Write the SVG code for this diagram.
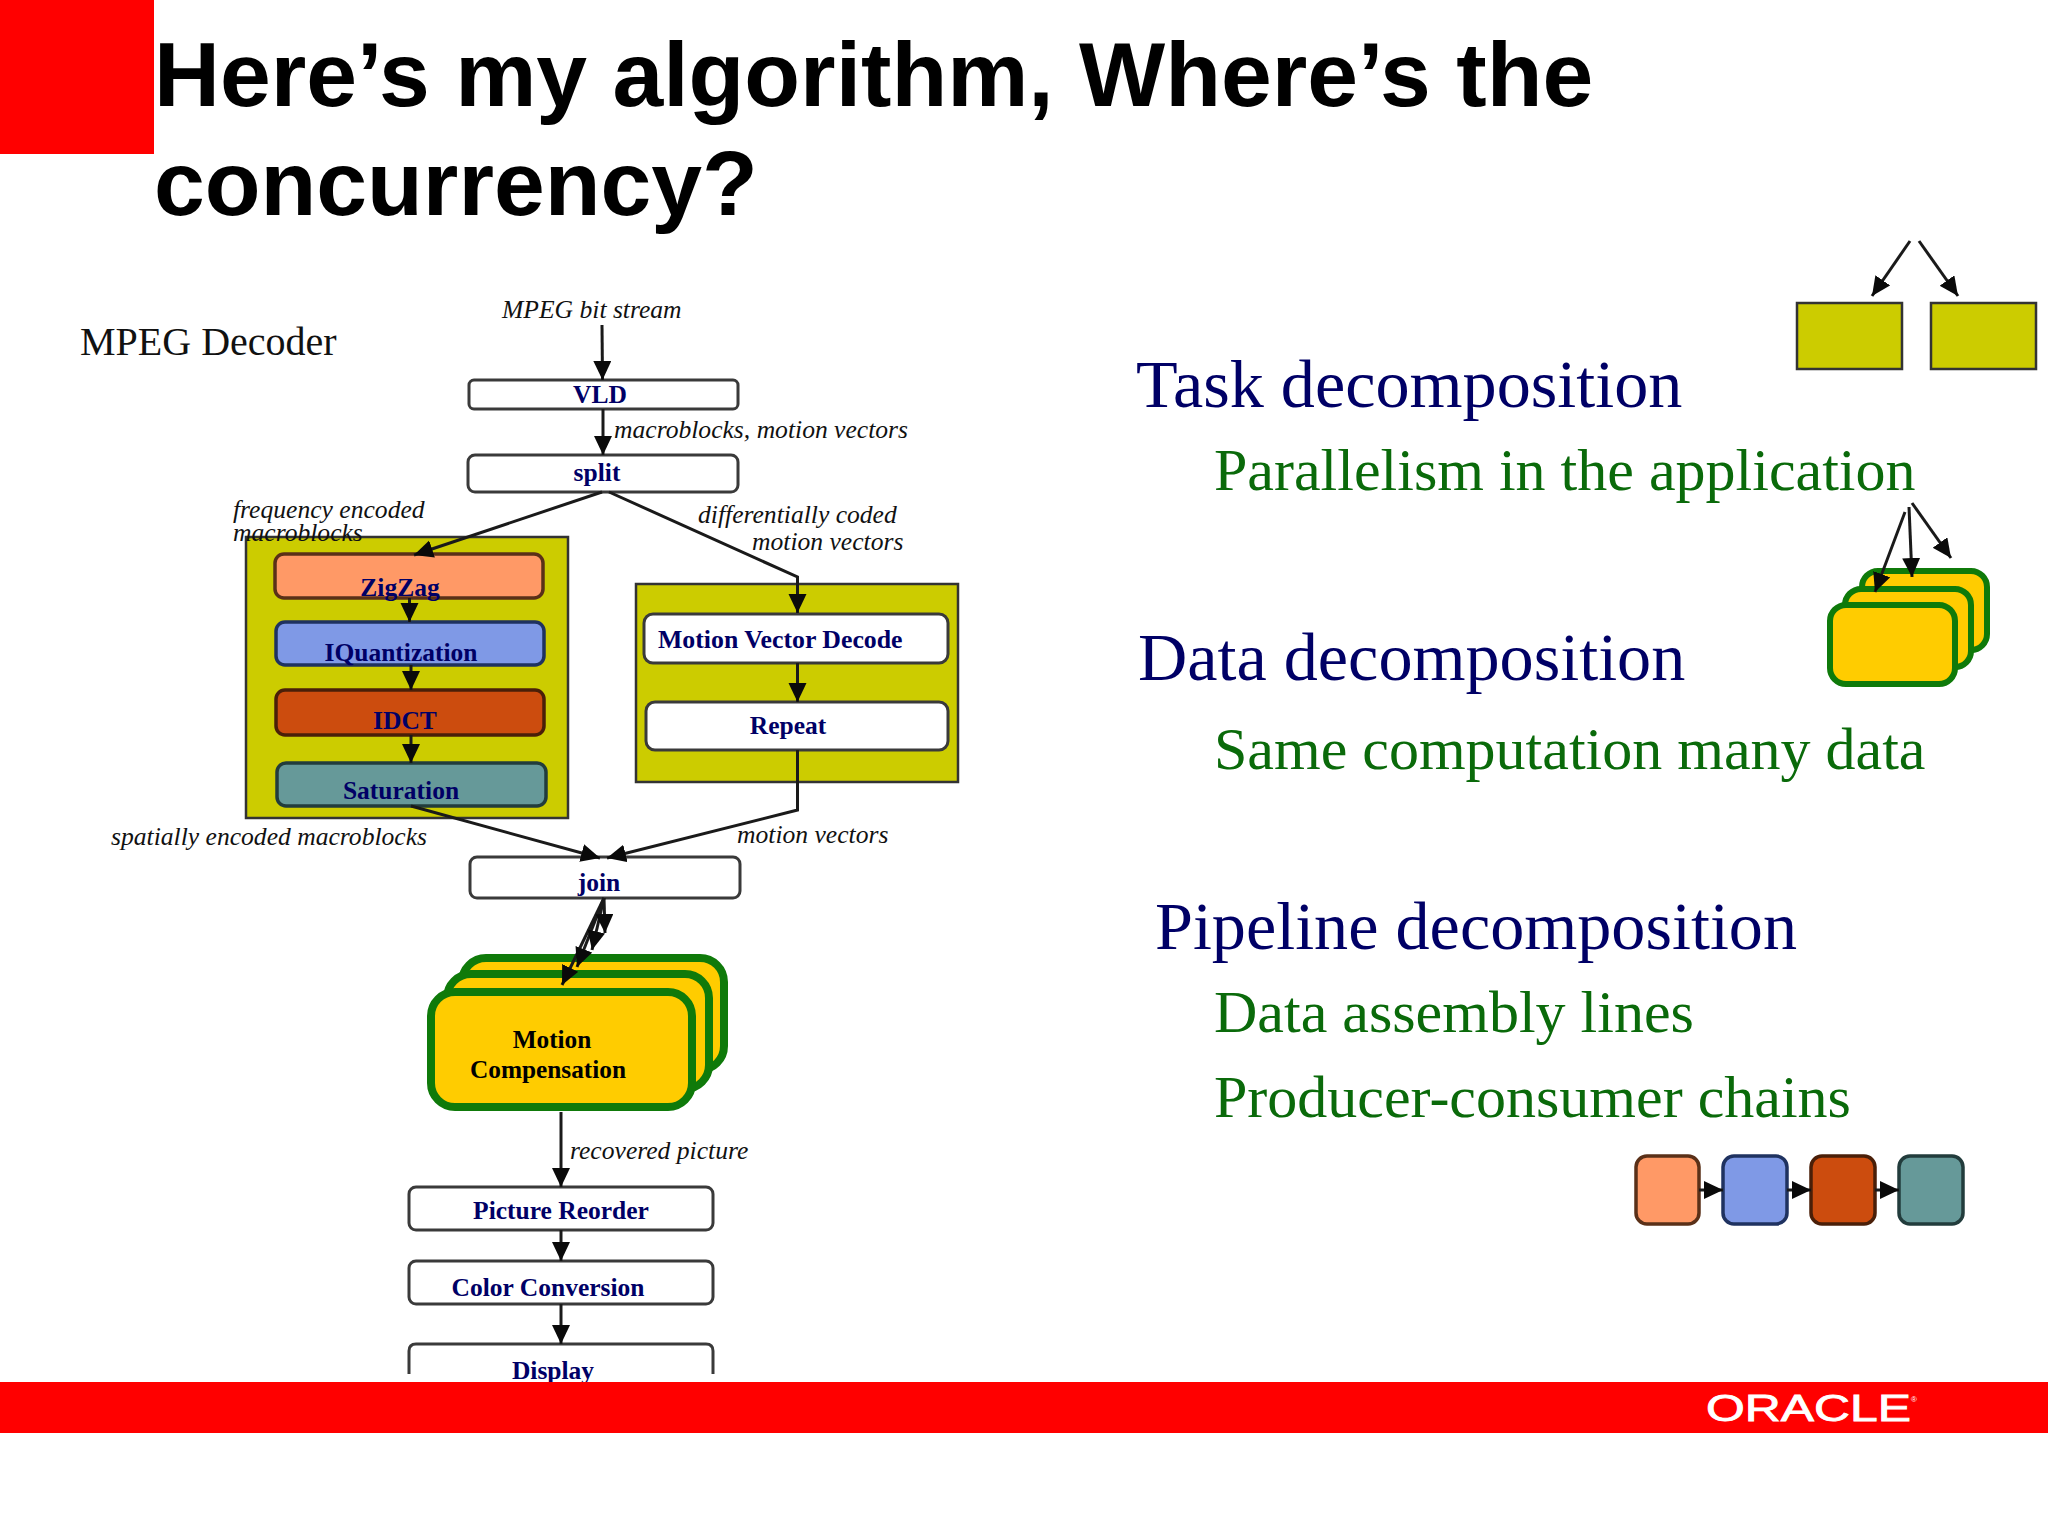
<svg xmlns="http://www.w3.org/2000/svg" width="2048" height="1536" viewBox="0 0 2048 1536">
<style>
.title{font:bold 91.300px "Liberation Sans",Arial,sans-serif;fill:#000}
.head{font:68.200px "Liberation Serif","Times New Roman",serif;fill:#000066}
.sub{font:60px "Liberation Serif","Times New Roman",serif;fill:#0a6a0a}
.lab{font:italic 25.600px "Liberation Serif","Times New Roman",serif;fill:#111}
.nt{font:bold 25.500px "Liberation Serif","Times New Roman",serif;fill:#000066}
.nb{font:bold 25.300px "Liberation Serif","Times New Roman",serif;fill:#000}
.m{text-anchor:middle}
.wb{fill:#fff;stroke:#3a3a3a;stroke-width:3}
.yb{fill:#cccc00;stroke:#333;stroke-width:2.500}
.gb{fill:#ffcc00;stroke:#0f7a0a;stroke-width:8}
.gs{fill:#ffcc00;stroke:#0f7a0a;stroke-width:6}
.c1{fill:#ff9966;stroke:#5a3018;stroke-width:3.500}
.c2{fill:#7f99e6;stroke:#1f3260;stroke-width:3.500}
.c3{fill:#cc4c0e;stroke:#4a1f08;stroke-width:3.500}
.c4{fill:#669999;stroke:#223c3c;stroke-width:3.500}
.a{fill:none;stroke:#1a1a1a;stroke-width:3;marker-end:url(#h)}
</style>
<defs>
<marker id="h" markerUnits="userSpaceOnUse" markerWidth="21" markerHeight="19" refX="19" refY="9" orient="auto"><path d="M0 0L19 9L0 18z" fill="#0a0a0a"/></marker>
</defs>
<rect width="2048" height="1536" fill="#fff"/>
<rect id="corner" width="154" height="154" fill="#ff0000"/>
<g id="title"><text class="title" x="154" y="106">Here’s my algorithm, Where’s the</text><text class="title" x="154" y="215">concurrency?</text></g>
<text id="mpeg-decoder" x="80" y="355" font-family="Liberation Serif, serif" font-size="40" fill="#111">MPEG Decoder</text>
<g id="labels">
<text class="lab" x="502" y="318">MPEG bit stream</text>
<text class="lab" x="614" y="438">macroblocks, motion vectors</text>
<text class="lab" x="233" y="518">frequency encoded</text>
<text class="lab" x="698" y="523">differentially coded</text>
<text class="lab" x="752" y="550">motion vectors</text>
<text class="lab" x="111" y="845">spatially encoded macroblocks</text>
<text class="lab" x="737" y="843">motion vectors</text>
<text class="lab" x="570" y="1159">recovered picture</text>
</g>
<g id="group-left"><rect class="yb" x="246" y="537" width="322" height="281"/></g>
<text class="lab" x="233" y="541">macroblocks</text>
<g id="group-right"><rect class="yb" x="636" y="584" width="322" height="198"/></g>
<g id="vld"><rect class="wb" x="469" y="380" width="269" height="29" rx="5"/><text class="nt m" x="600" y="403">VLD</text></g>
<g id="split"><rect class="wb" x="468" y="455" width="270" height="37" rx="7"/><text class="nt m" x="597" y="481">split</text></g>
<g id="zigzag"><rect class="c1" x="275" y="554" width="268" height="44" rx="9"/><text class="nt m" x="400" y="596">ZigZag</text></g>
<g id="iquant"><rect class="c2" x="276" y="622" width="268" height="43" rx="9"/><text class="nt m" x="401" y="661">IQuantization</text></g>
<g id="idct"><rect class="c3" x="276" y="690" width="268" height="45" rx="9"/><text class="nt m" x="405" y="729">IDCT</text></g>
<g id="saturation"><rect class="c4" x="277" y="763" width="269" height="43" rx="9"/><text class="nt m" x="401" y="799">Saturation</text></g>
<g id="mvd"><rect class="wb" x="644" y="614" width="304" height="49" rx="9"/><text class="nt" x="658" y="648" style="font-size:25.800px">Motion Vector Decode</text></g>
<g id="repeat"><rect class="wb" x="646" y="702" width="302" height="48" rx="9"/><text class="nt m" x="788" y="734">Repeat</text></g>
<g id="join"><rect class="wb" x="470" y="857" width="270" height="41" rx="7"/><text class="nt m" x="599" y="891">join</text></g>
<g id="motion-comp">
<rect class="gb" x="462" y="958" width="262" height="112" rx="24"/>
<rect class="gb" x="447" y="974" width="262" height="115" rx="24"/>
<rect class="gb" x="431" y="992" width="261" height="115" rx="24"/>
<text class="nb m" x="552" y="1048">Motion</text><text class="nb m" x="548" y="1078">Compensation</text>
</g>
<g id="picture-reorder"><rect class="wb" x="409" y="1187" width="304" height="43" rx="7"/><text class="nt m" x="561" y="1219">Picture Reorder</text></g>
<g id="color-conversion"><rect class="wb" x="409" y="1261" width="304" height="43" rx="7"/><text class="nt m" x="548" y="1296">Color Conversion</text></g>
<g id="display"><path class="wb" d="M409 1374V1351q0-7 7-7H706q7 0 7 7V1374"/><text class="nt m" x="553" y="1379">Display</text></g>
<g id="text-task"><text class="head" x="1136" y="407">Task decomposition</text><text class="sub" x="1214" y="490">Parallelism in the application</text></g>
<g id="text-data"><text class="head" x="1138" y="680">Data decomposition</text><text class="sub" x="1214" y="769">Same computation many data</text></g>
<g id="text-pipeline"><text class="head" x="1155" y="949">Pipeline decomposition</text><text class="sub" x="1214" y="1032">Data assembly lines</text><text class="sub" x="1214" y="1117">Producer-consumer chains</text></g>
<g id="task-icon"><rect class="yb" x="1797" y="303" width="105" height="66"/><rect class="yb" x="1931" y="303" width="105" height="66"/></g>
<g id="data-icon">
<rect class="gs" x="1862" y="571" width="125" height="79" rx="16"/>
<rect class="gs" x="1845" y="589" width="126" height="78" rx="16"/>
<rect class="gs" x="1830" y="605" width="125" height="79" rx="16"/>
</g>
<g id="pipe-icon">
<rect class="c1" x="1636" y="1156" width="63" height="68" rx="11"/>
<rect class="c2" x="1723" y="1156" width="64" height="68" rx="11"/>
<rect class="c3" x="1811" y="1156" width="64" height="68" rx="11"/>
<rect class="c4" x="1899" y="1156" width="64" height="68" rx="11"/>
</g>
<g id="connectors">
<path class="a" d="M602 325L602.500 380"/>
<path class="a" d="M603 409V455"/>
<path class="a" d="M602 492L414 555"/>
<path class="a" d="M609 492L797.500 577V613"/>
<path class="a" d="M409.500 598V622"/>
<path class="a" d="M411 665V690"/>
<path class="a" d="M411 735V763"/>
<path class="a" d="M797.500 663V702"/>
<path class="a" d="M411 806L600 858"/>
<path class="a" d="M797.500 750V810L607 858"/>
<path class="a" d="M604 898L562 985"/>
<path class="a" d="M604 898L577 967"/>
<path class="a" d="M604 898L592 950"/>
<path class="a" d="M604 898L605 933"/>
<path class="a" d="M561 1112V1187"/>
<path class="a" d="M561 1230V1261"/>
<path class="a" d="M561 1304V1344"/>
<path class="a" d="M1910 241L1872 296"/>
<path class="a" d="M1919 241L1958 296"/>
<path class="a" d="M1905 512L1875 592"/>
<path class="a" d="M1909 507L1912 577"/>
<path class="a" d="M1912 503L1951 558"/>
<path class="a" d="M1699 1190H1723"/>
<path class="a" d="M1787 1190H1811"/>
<path class="a" d="M1875 1190H1899"/>
</g>
<rect id="footer" y="1382" width="2048" height="51" fill="#ff0000"/>
<g id="oracle" fill="#fff" stroke="#fff" stroke-width="0.800" font-family="Liberation Sans, sans-serif"><text x="1706" y="1421" font-size="36" textLength="205" lengthAdjust="spacingAndGlyphs">ORACLE</text><text x="1911" y="1402" font-size="8" stroke="none">®</text></g>
</svg>
